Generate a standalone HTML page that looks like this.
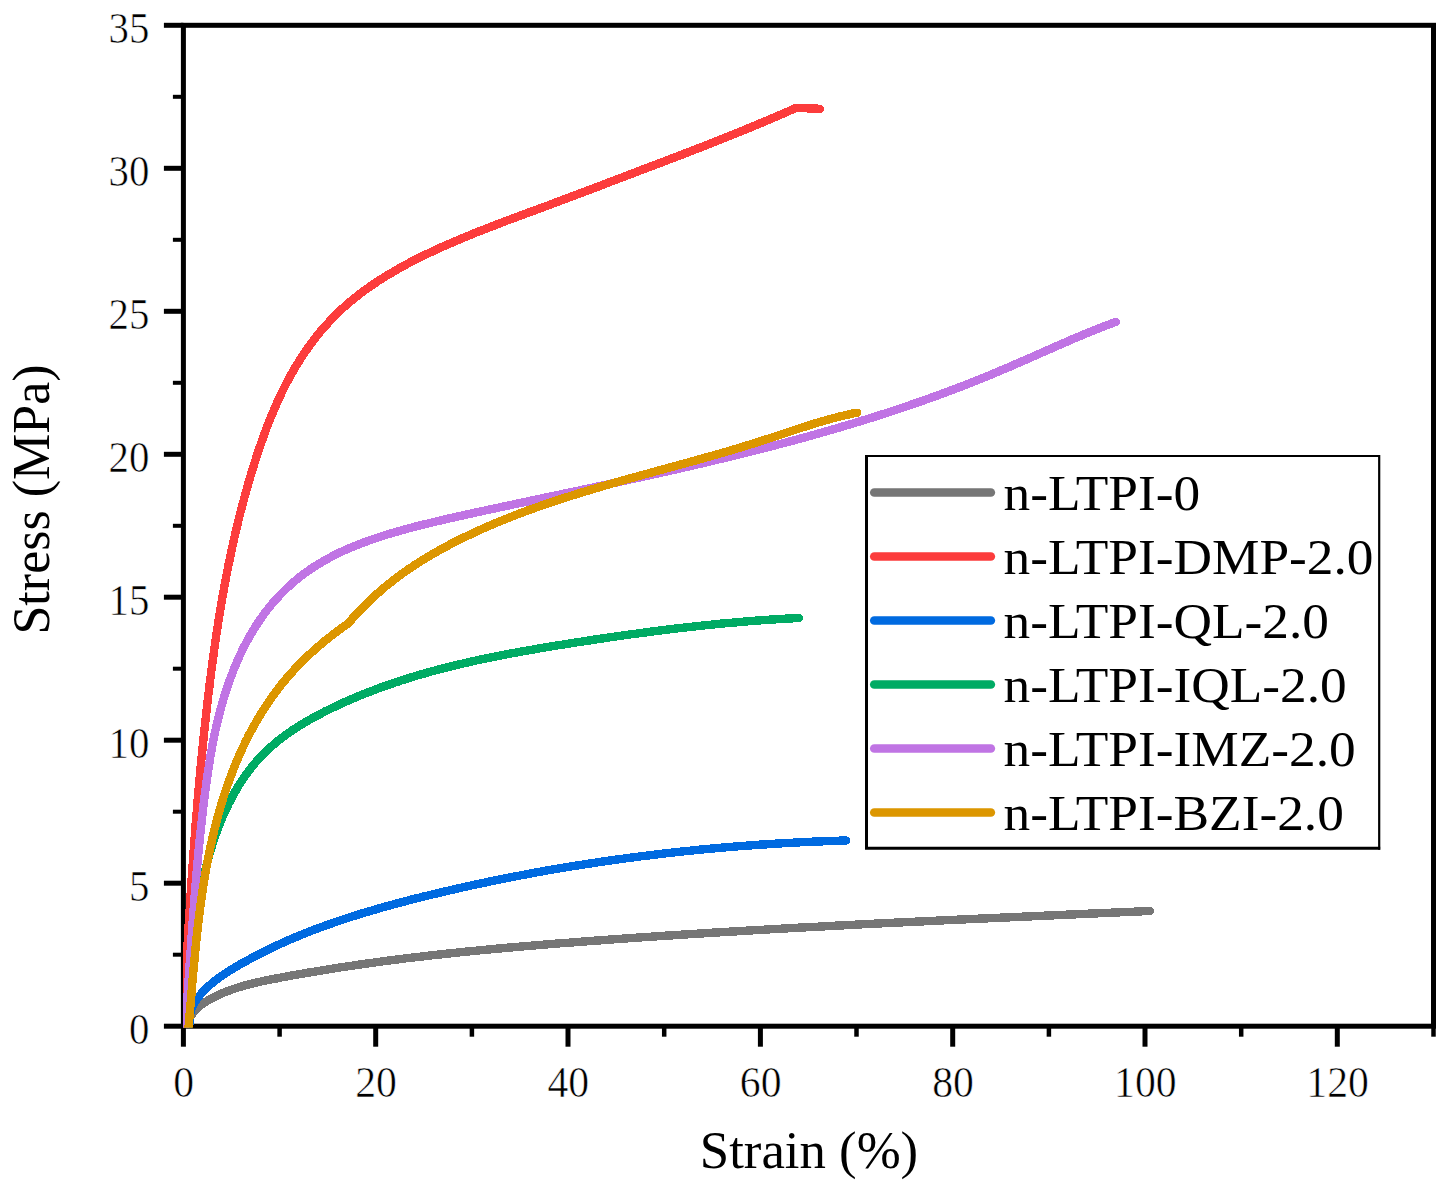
<!DOCTYPE html>
<html><head><meta charset="utf-8"><title>Stress-Strain</title>
<style>
html,body{margin:0;padding:0;background:#fff;}
body{width:1446px;height:1188px;overflow:hidden;}
svg{display:block;}
text{font-family:"Liberation Serif",serif;fill:#000;}
.tk{font-size:43px;stroke:#fff;stroke-width:0.55px;}
.lg{font-size:50px;}
.ti{font-size:52px;}
</style></head><body>
<svg width="1446" height="1188" viewBox="0 0 1446 1188">
<rect width="1446" height="1188" fill="#fff"/>
<defs><clipPath id="cp"><rect x="183" y="20" width="1260" height="1007.8"/></clipPath></defs>
<g stroke="#000" stroke-linecap="butt">
<rect x="183.4" y="25.3" width="1250.1" height="1000.9" fill="none" stroke="#000" stroke-width="5"/>
<line x1="183.4" y1="1026.2" x2="183.4" y2="1046.7" stroke-width="5"/>
<line x1="279.6" y1="1026.2" x2="279.6" y2="1036.7" stroke-width="4.5"/>
<line x1="375.7" y1="1026.2" x2="375.7" y2="1046.7" stroke-width="5"/>
<line x1="471.9" y1="1026.2" x2="471.9" y2="1036.7" stroke-width="4.5"/>
<line x1="568.0" y1="1026.2" x2="568.0" y2="1046.7" stroke-width="5"/>
<line x1="664.2" y1="1026.2" x2="664.2" y2="1036.7" stroke-width="4.5"/>
<line x1="760.4" y1="1026.2" x2="760.4" y2="1046.7" stroke-width="5"/>
<line x1="856.5" y1="1026.2" x2="856.5" y2="1036.7" stroke-width="4.5"/>
<line x1="952.7" y1="1026.2" x2="952.7" y2="1046.7" stroke-width="5"/>
<line x1="1048.9" y1="1026.2" x2="1048.9" y2="1036.7" stroke-width="4.5"/>
<line x1="1145.0" y1="1026.2" x2="1145.0" y2="1046.7" stroke-width="5"/>
<line x1="1241.2" y1="1026.2" x2="1241.2" y2="1036.7" stroke-width="4.5"/>
<line x1="1337.3" y1="1026.2" x2="1337.3" y2="1046.7" stroke-width="5"/>
<line x1="1433.5" y1="1026.2" x2="1433.5" y2="1036.7" stroke-width="4.5"/>
<line x1="183.4" y1="1026.2" x2="163.9" y2="1026.2" stroke-width="5"/>
<line x1="183.4" y1="954.7" x2="172.9" y2="954.7" stroke-width="4"/>
<line x1="183.4" y1="883.2" x2="163.9" y2="883.2" stroke-width="5"/>
<line x1="183.4" y1="811.7" x2="172.9" y2="811.7" stroke-width="4"/>
<line x1="183.4" y1="740.2" x2="163.9" y2="740.2" stroke-width="5"/>
<line x1="183.4" y1="668.7" x2="172.9" y2="668.7" stroke-width="4"/>
<line x1="183.4" y1="597.2" x2="163.9" y2="597.2" stroke-width="5"/>
<line x1="183.4" y1="525.8" x2="172.9" y2="525.8" stroke-width="4"/>
<line x1="183.4" y1="454.3" x2="163.9" y2="454.3" stroke-width="5"/>
<line x1="183.4" y1="382.8" x2="172.9" y2="382.8" stroke-width="4"/>
<line x1="183.4" y1="311.3" x2="163.9" y2="311.3" stroke-width="5"/>
<line x1="183.4" y1="239.8" x2="172.9" y2="239.8" stroke-width="4"/>
<line x1="183.4" y1="168.3" x2="163.9" y2="168.3" stroke-width="5"/>
<line x1="183.4" y1="96.8" x2="172.9" y2="96.8" stroke-width="4"/>
<line x1="183.4" y1="25.3" x2="163.9" y2="25.3" stroke-width="5"/>
</g>
<g fill="none" stroke-width="8.4" stroke-linecap="round" stroke-linejoin="round" clip-path="url(#cp)" shape-rendering="crispEdges">
<path d="M188.1,1024.8 L188.6,1022.2 L189.4,1019.8 L190.3,1017.5 L191.4,1015.4 L192.7,1013.4 L194.1,1011.6 L195.7,1009.8 L197.3,1008.1 L199.1,1006.6 L201.0,1005.1 L202.9,1003.7 L204.9,1002.3 L207.0,1001.1 L209.1,999.8 L211.2,998.7 L213.3,997.5 L215.5,996.4 L217.6,995.4 L219.8,994.4 L222.0,993.4 L224.3,992.4 L226.5,991.5 L228.8,990.7 L231.1,989.8 L233.4,989.0 L235.7,988.3 L238.0,987.5 L240.4,986.8 L242.7,986.1 L245.1,985.4 L247.5,984.8 L249.9,984.2 L252.3,983.6 L254.7,983.0 L257.1,982.4 L259.5,981.9 L261.9,981.3 L264.4,980.8 L266.8,980.3 L269.3,979.8 L271.7,979.3 L274.1,978.8 L276.6,978.4 L279.1,977.9 L281.5,977.4 L284.0,977.0 L286.4,976.5 L288.9,976.1 L291.3,975.6 L293.8,975.2 L296.2,974.8 L298.7,974.3 L301.1,973.9 L303.6,973.5 L306.0,973.0 L308.5,972.6 L310.9,972.2 L313.4,971.8 L315.8,971.4 L318.3,971.0 L320.7,970.6 L323.2,970.2 L325.6,969.8 L328.0,969.4 L330.5,969.0 L332.9,968.6 L335.4,968.2 L337.8,967.8 L340.3,967.4 L342.7,967.1 L345.2,966.7 L347.6,966.3 L350.1,966.0 L352.5,965.6 L355.0,965.2 L357.4,964.9 L359.9,964.5 L362.3,964.2 L364.7,963.8 L367.2,963.5 L369.6,963.1 L372.1,962.8 L374.5,962.5 L377.0,962.1 L379.4,961.8 L381.9,961.5 L384.3,961.1 L386.7,960.8 L389.2,960.5 L391.6,960.2 L394.1,959.9 L396.5,959.6 L399.0,959.2 L401.4,958.9 L403.9,958.6 L406.3,958.3 L408.7,958.0 L411.2,957.7 L413.6,957.4 L416.1,957.2 L418.5,956.9 L421.0,956.6 L423.4,956.3 L425.8,956.0 L428.3,955.7 L430.7,955.4 L433.2,955.2 L435.6,954.9 L438.1,954.6 L440.5,954.4 L442.9,954.1 L445.4,953.8 L447.8,953.6 L450.3,953.3 L452.7,953.0 L455.2,952.8 L457.6,952.5 L460.0,952.3 L462.5,952.0 L464.9,951.8 L467.4,951.5 L469.8,951.3 L472.3,951.0 L474.7,950.8 L477.2,950.6 L479.6,950.3 L482.0,950.1 L484.5,949.9 L486.9,949.6 L489.4,949.4 L491.8,949.2 L494.3,948.9 L496.7,948.7 L499.1,948.5 L501.6,948.3 L504.0,948.0 L506.5,947.8 L508.9,947.6 L511.4,947.4 L513.8,947.2 L516.3,947.0 L518.7,946.8 L521.1,946.5 L523.6,946.3 L526.0,946.1 L528.5,945.9 L530.9,945.7 L533.4,945.5 L535.8,945.3 L538.3,945.1 L540.7,944.9 L543.1,944.7 L545.6,944.5 L548.0,944.3 L550.5,944.1 L552.9,943.9 L555.4,943.7 L557.8,943.5 L560.3,943.3 L562.7,943.1 L565.2,942.9 L567.6,942.8 L570.1,942.6 L572.5,942.4 L575.0,942.2 L577.4,942.0 L579.8,941.8 L582.3,941.6 L584.7,941.4 L587.2,941.3 L589.6,941.1 L592.1,940.9 L594.5,940.7 L597.0,940.5 L599.4,940.4 L601.9,940.2 L604.3,940.0 L606.8,939.8 L609.2,939.6 L611.7,939.5 L614.1,939.3 L616.6,939.1 L619.0,938.9 L621.5,938.8 L623.9,938.6 L626.4,938.4 L628.8,938.2 L631.3,938.1 L633.8,937.9 L636.2,937.7 L638.7,937.6 L641.1,937.4 L643.6,937.2 L646.0,937.1 L648.5,936.9 L650.9,936.7 L653.4,936.6 L655.8,936.4 L658.3,936.2 L660.7,936.1 L663.2,935.9 L665.6,935.7 L668.1,935.6 L670.6,935.4 L673.0,935.3 L675.5,935.1 L677.9,934.9 L680.4,934.8 L682.8,934.6 L685.3,934.5 L687.7,934.3 L690.2,934.1 L692.7,934.0 L695.1,933.8 L697.6,933.7 L700.0,933.5 L702.5,933.4 L704.9,933.2 L707.4,933.1 L709.8,932.9 L712.3,932.7 L714.8,932.6 L717.2,932.4 L719.7,932.3 L722.1,932.1 L724.6,932.0 L727.1,931.8 L729.5,931.7 L732.0,931.5 L734.4,931.4 L736.9,931.3 L739.3,931.1 L741.8,931.0 L744.3,930.8 L746.7,930.7 L749.2,930.5 L751.6,930.4 L754.1,930.2 L756.5,930.1 L759.0,930.0 L761.5,929.8 L763.9,929.7 L766.4,929.5 L768.8,929.4 L771.3,929.2 L773.8,929.1 L776.2,929.0 L778.7,928.8 L781.1,928.7 L783.6,928.5 L786.1,928.4 L788.5,928.3 L791.0,928.1 L793.4,928.0 L795.9,927.9 L798.4,927.7 L800.8,927.6 L803.3,927.5 L805.7,927.3 L808.2,927.2 L810.7,927.1 L813.1,926.9 L815.6,926.8 L818.0,926.7 L820.5,926.5 L823.0,926.4 L825.4,926.3 L827.9,926.1 L830.3,926.0 L832.8,925.9 L835.3,925.7 L837.7,925.6 L840.2,925.5 L842.7,925.4 L845.1,925.2 L847.6,925.1 L850.0,925.0 L852.5,924.8 L855.0,924.7 L857.4,924.6 L859.9,924.5 L862.3,924.3 L864.8,924.2 L867.3,924.1 L869.7,924.0 L872.2,923.8 L874.6,923.7 L877.1,923.6 L879.6,923.5 L882.0,923.3 L884.5,923.2 L887.0,923.1 L889.4,923.0 L891.9,922.8 L894.3,922.7 L896.8,922.6 L899.3,922.5 L901.7,922.4 L904.2,922.2 L906.6,922.1 L909.1,922.0 L911.6,921.9 L914.0,921.8 L916.5,921.6 L918.9,921.5 L921.4,921.4 L923.9,921.3 L926.3,921.2 L928.8,921.0 L931.3,920.9 L933.7,920.8 L936.2,920.7 L938.6,920.6 L941.1,920.5 L943.6,920.3 L946.0,920.2 L948.5,920.1 L950.9,920.0 L953.4,919.9 L955.9,919.8 L958.3,919.6 L960.8,919.5 L963.2,919.4 L965.7,919.3 L968.2,919.2 L970.6,919.1 L973.1,919.0 L975.5,918.8 L978.0,918.7 L980.5,918.6 L982.9,918.5 L985.4,918.4 L987.8,918.3 L990.3,918.2 L992.8,918.0 L995.2,917.9 L997.7,917.8 L1000.1,917.7 L1002.6,917.6 L1005.1,917.5 L1007.5,917.4 L1010.0,917.3 L1012.4,917.1 L1014.9,917.0 L1017.4,916.9 L1019.8,916.8 L1022.3,916.7 L1024.7,916.6 L1027.2,916.5 L1029.7,916.4 L1032.1,916.3 L1034.6,916.1 L1037.0,916.0 L1039.5,915.9 L1041.9,915.8 L1044.4,915.7 L1046.9,915.6 L1049.3,915.5 L1051.8,915.4 L1054.2,915.3 L1056.7,915.1 L1059.1,915.0 L1061.6,914.9 L1064.1,914.8 L1066.5,914.7 L1069.0,914.6 L1071.4,914.5 L1073.9,914.4 L1076.3,914.3 L1078.8,914.2 L1081.3,914.0 L1083.7,913.9 L1086.2,913.8 L1088.6,913.7 L1091.1,913.6 L1093.5,913.5 L1096.0,913.4 L1098.4,913.3 L1100.9,913.2 L1103.4,913.1 L1105.8,913.0 L1108.3,912.8 L1110.7,912.7 L1113.2,912.6 L1115.6,912.5 L1118.1,912.4 L1120.5,912.3 L1123.0,912.2 L1125.4,912.1 L1127.9,912.0 L1130.4,911.9 L1132.8,911.8 L1135.3,911.6 L1137.7,911.5 L1140.2,911.4 L1142.6,911.3 L1145.1,911.2 L1147.5,911.1 L1150.0,911.0" stroke="#767676"/>
<path d="M183.2,1026.0 L183.4,1022.9 L183.5,1019.8 L183.7,1016.7 L183.8,1013.6 L184.0,1010.4 L184.1,1007.3 L184.3,1004.2 L184.5,1001.1 L184.6,998.0 L184.8,994.9 L184.9,991.8 L185.1,988.7 L185.3,985.6 L185.4,982.4 L185.6,979.3 L185.8,976.2 L185.9,973.1 L186.1,970.0 L186.3,966.9 L186.5,963.8 L186.6,960.6 L186.8,957.5 L187.0,954.4 L187.2,951.3 L187.3,948.2 L187.5,945.1 L187.7,942.0 L187.9,938.8 L188.1,935.7 L188.2,932.6 L188.4,929.5 L188.6,926.4 L188.8,923.2 L189.0,920.1 L189.2,917.0 L189.4,913.9 L189.6,910.8 L189.8,907.7 L190.0,904.5 L190.2,901.4 L190.4,898.3 L190.6,895.2 L190.8,892.1 L191.0,888.9 L191.2,885.8 L191.4,882.7 L191.6,879.6 L191.8,876.5 L192.0,873.4 L192.2,870.2 L192.5,867.1 L192.7,864.0 L192.9,860.9 L193.1,857.8 L193.4,854.6 L193.6,851.5 L193.8,848.4 L194.0,845.3 L194.3,842.2 L194.5,839.1 L194.8,835.9 L195.0,832.8 L195.2,829.7 L195.5,826.6 L195.7,823.5 L196.0,820.4 L196.2,817.2 L196.5,814.1 L196.8,811.0 L197.0,807.9 L197.3,804.8 L197.5,801.7 L197.8,798.5 L198.1,795.4 L198.4,792.3 L198.6,789.2 L198.9,786.1 L199.2,783.0 L199.5,779.9 L199.8,776.8 L200.1,773.7 L200.3,770.5 L200.6,767.4 L200.9,764.3 L201.2,761.2 L201.5,758.1 L201.8,755.0 L202.2,751.9 L202.5,748.8 L202.8,745.7 L203.1,742.6 L203.4,739.5 L203.7,736.4 L204.1,733.3 L204.4,730.2 L204.7,727.1 L205.1,724.0 L205.4,720.9 L205.7,717.8 L206.1,714.7 L206.4,711.6 L206.8,708.5 L207.2,705.4 L207.5,702.3 L207.9,699.2 L208.2,696.1 L208.6,693.0 L209.0,689.9 L209.4,686.8 L209.7,683.7 L210.1,680.6 L210.5,677.5 L210.9,674.4 L211.3,671.3 L211.7,668.3 L212.1,665.2 L212.5,662.1 L212.9,659.0 L213.4,655.9 L213.8,652.8 L214.2,649.8 L214.6,646.7 L215.1,643.6 L215.5,640.5 L216.0,637.4 L216.4,634.4 L216.9,631.3 L217.4,628.2 L217.8,625.1 L218.3,622.1 L218.8,619.0 L219.3,615.9 L219.8,612.9 L220.3,609.8 L220.8,606.7 L221.3,603.7 L221.9,600.6 L222.4,597.5 L222.9,594.5 L223.5,591.4 L224.0,588.3 L224.6,585.3 L225.2,582.2 L225.7,579.2 L226.3,576.1 L226.9,573.1 L227.5,570.0 L228.1,566.9 L228.7,563.9 L229.4,560.8 L230.0,557.8 L230.6,554.8 L231.3,551.7 L231.9,548.7 L232.6,545.6 L233.3,542.6 L233.9,539.5 L234.6,536.5 L235.3,533.5 L236.0,530.4 L236.8,527.4 L237.5,524.4 L238.2,521.3 L239.0,518.3 L239.7,515.3 L240.5,512.2 L241.3,509.2 L242.1,506.2 L242.9,503.2 L243.7,500.1 L244.5,497.1 L245.3,494.1 L246.2,491.1 L247.0,488.1 L247.9,485.0 L248.7,482.0 L249.6,479.0 L250.5,476.0 L251.4,473.0 L252.3,470.0 L253.3,467.0 L254.2,464.0 L255.2,461.0 L256.1,458.0 L257.1,455.0 L258.1,452.0 L259.1,449.0 L260.1,446.0 L261.2,443.0 L262.2,440.1 L263.3,437.1 L264.3,434.1 L265.4,431.2 L266.5,428.2 L267.7,425.3 L268.8,422.3 L270.0,419.4 L271.2,416.5 L272.4,413.6 L273.6,410.7 L274.8,407.8 L276.1,404.9 L277.4,402.1 L278.7,399.2 L280.0,396.4 L281.3,393.5 L282.7,390.7 L284.1,387.9 L285.5,385.1 L286.9,382.3 L288.4,379.6 L289.9,376.8 L291.4,374.1 L292.9,371.4 L294.5,368.7 L296.1,366.0 L297.7,363.4 L299.3,360.7 L301.0,358.1 L302.7,355.5 L304.4,352.9 L306.2,350.4 L308.0,347.8 L309.8,345.3 L311.6,342.8 L313.5,340.3 L315.4,337.9 L317.3,335.4 L319.3,333.0 L321.2,330.6 L323.3,328.3 L325.3,326.0 L327.4,323.7 L329.5,321.4 L331.6,319.1 L333.7,316.9 L335.9,314.7 L338.1,312.6 L340.4,310.4 L342.6,308.3 L344.9,306.3 L347.3,304.2 L349.6,302.2 L352.0,300.2 L354.4,298.3 L356.8,296.3 L359.2,294.4 L361.7,292.5 L364.2,290.7 L366.7,288.9 L369.2,287.1 L371.8,285.3 L374.4,283.6 L376.9,281.8 L379.6,280.1 L382.2,278.5 L384.8,276.8 L387.5,275.2 L390.2,273.6 L392.9,272.0 L395.6,270.4 L398.3,268.8 L401.0,267.3 L403.8,265.8 L406.5,264.3 L409.3,262.8 L412.1,261.4 L414.9,259.9 L417.7,258.5 L420.5,257.1 L423.3,255.7 L426.1,254.4 L429.0,253.0 L431.8,251.7 L434.6,250.3 L437.5,249.0 L440.3,247.7 L443.2,246.4 L446.1,245.2 L448.9,243.9 L451.8,242.7 L454.7,241.4 L457.6,240.2 L460.4,239.0 L463.3,237.8 L466.2,236.6 L469.1,235.4 L472.0,234.2 L474.9,233.0 L477.8,231.9 L480.7,230.7 L483.6,229.6 L486.5,228.4 L489.4,227.3 L492.4,226.2 L495.3,225.1 L498.2,223.9 L501.1,222.8 L504.0,221.7 L506.9,220.6 L509.9,219.5 L512.8,218.4 L515.7,217.4 L518.6,216.3 L521.6,215.2 L524.5,214.1 L527.4,213.0 L530.3,211.9 L533.3,210.9 L536.2,209.8 L539.1,208.7 L542.0,207.6 L545.0,206.5 L547.9,205.5 L550.8,204.4 L553.7,203.3 L556.6,202.2 L559.6,201.1 L562.5,200.0 L565.4,198.9 L568.3,197.8 L571.2,196.7 L574.1,195.6 L577.1,194.5 L580.0,193.4 L582.9,192.3 L585.8,191.2 L588.7,190.1 L591.6,189.0 L594.5,187.9 L597.5,186.8 L600.4,185.7 L603.3,184.6 L606.2,183.5 L609.1,182.3 L612.0,181.2 L614.9,180.1 L617.8,179.0 L620.8,177.9 L623.7,176.8 L626.6,175.7 L629.5,174.6 L632.4,173.5 L635.3,172.4 L638.2,171.3 L641.2,170.1 L644.1,169.0 L647.0,167.9 L649.9,166.8 L652.8,165.7 L655.7,164.6 L658.7,163.5 L661.6,162.4 L664.5,161.3 L667.4,160.1 L670.3,159.0 L673.2,157.9 L676.2,156.8 L679.1,155.7 L682.0,154.6 L684.9,153.4 L687.8,152.3 L690.7,151.2 L693.6,150.1 L696.6,148.9 L699.5,147.8 L702.4,146.7 L705.3,145.5 L708.2,144.4 L711.1,143.2 L714.0,142.1 L716.9,140.9 L719.8,139.8 L722.7,138.6 L725.6,137.5 L728.5,136.3 L731.4,135.2 L734.3,134.0 L737.2,132.8 L740.1,131.6 L743.0,130.5 L745.9,129.3 L748.8,128.1 L751.7,126.9 L754.5,125.7 L757.4,124.5 L760.3,123.3 L763.2,122.1 L766.1,120.9 L768.9,119.7 L771.8,118.5 L774.7,117.2 L777.6,116.0 L780.4,114.8 L783.3,113.5 L786.1,112.3 L789.0,111.0 L791.9,109.8 L794.7,108.5 L798.0,107.9 L804.0,108.2 L820.0,108.8" stroke="#fc3c3c"/>
<path d="M189.4,1024.0 L189.3,1022.0 L189.3,1020.1 L189.4,1018.3 L189.6,1016.5 L189.9,1014.7 L190.3,1013.0 L190.8,1011.3 L191.3,1009.6 L192.0,1008.0 L192.6,1006.5 L193.4,1004.9 L194.2,1003.4 L195.1,1002.0 L196.0,1000.5 L196.9,999.1 L198.0,997.7 L199.0,996.4 L200.1,995.0 L201.2,993.7 L202.3,992.4 L203.5,991.2 L204.7,989.9 L205.9,988.7 L207.1,987.5 L208.4,986.3 L209.7,985.2 L211.0,984.0 L212.3,982.9 L213.7,981.8 L215.1,980.7 L216.5,979.6 L217.9,978.5 L219.3,977.5 L220.8,976.5 L222.3,975.4 L223.7,974.4 L225.2,973.5 L226.7,972.5 L228.3,971.5 L229.8,970.6 L231.3,969.6 L232.9,968.7 L234.4,967.7 L236.0,966.8 L237.5,965.9 L239.1,965.0 L240.6,964.1 L242.2,963.2 L243.8,962.4 L245.3,961.5 L246.9,960.6 L248.5,959.8 L250.1,958.9 L251.7,958.1 L253.2,957.2 L254.8,956.4 L256.4,955.5 L258.0,954.7 L259.6,953.9 L261.2,953.1 L262.8,952.3 L264.4,951.5 L266.0,950.7 L267.6,949.9 L269.2,949.1 L270.8,948.4 L272.4,947.6 L274.0,946.8 L275.6,946.1 L277.2,945.3 L278.8,944.6 L280.4,943.8 L282.0,943.1 L283.7,942.4 L285.3,941.7 L286.9,940.9 L288.5,940.2 L290.1,939.5 L291.8,938.8 L293.4,938.1 L295.0,937.4 L296.7,936.8 L298.3,936.1 L299.9,935.4 L301.6,934.7 L303.2,934.1 L304.8,933.4 L306.5,932.7 L308.1,932.1 L309.8,931.5 L311.4,930.8 L313.0,930.2 L314.7,929.5 L316.3,928.9 L318.0,928.3 L319.6,927.7 L321.3,927.1 L323.0,926.5 L324.6,925.9 L326.3,925.3 L327.9,924.7 L329.6,924.1 L331.3,923.5 L332.9,922.9 L334.6,922.3 L336.2,921.7 L337.9,921.2 L339.6,920.6 L341.2,920.0 L342.9,919.5 L344.6,918.9 L346.3,918.4 L347.9,917.8 L349.6,917.3 L351.3,916.8 L353.0,916.2 L354.6,915.7 L356.3,915.2 L358.0,914.6 L359.7,914.1 L361.4,913.6 L363.1,913.1 L364.7,912.6 L366.4,912.1 L368.1,911.6 L369.8,911.1 L371.5,910.6 L373.2,910.1 L374.9,909.6 L376.6,909.1 L378.3,908.6 L380.0,908.1 L381.7,907.6 L383.3,907.1 L385.0,906.7 L386.7,906.2 L388.4,905.7 L390.1,905.3 L391.8,904.8 L393.5,904.3 L395.2,903.9 L396.9,903.4 L398.6,903.0 L400.4,902.5 L402.1,902.1 L403.8,901.6 L405.5,901.2 L407.2,900.7 L408.9,900.3 L410.6,899.8 L412.3,899.4 L414.0,899.0 L415.7,898.5 L417.4,898.1 L419.1,897.7 L420.9,897.3 L422.6,896.8 L424.3,896.4 L426.0,896.0 L427.7,895.6 L429.4,895.1 L431.1,894.7 L432.8,894.3 L434.6,893.9 L436.3,893.5 L438.0,893.1 L439.7,892.7 L441.4,892.3 L443.1,891.9 L444.9,891.5 L446.6,891.1 L448.3,890.7 L450.0,890.3 L451.7,889.9 L453.5,889.5 L455.2,889.1 L456.9,888.7 L458.6,888.3 L460.4,887.9 L462.1,887.5 L463.8,887.1 L465.5,886.7 L467.3,886.4 L469.0,886.0 L470.7,885.6 L472.4,885.2 L474.2,884.8 L475.9,884.5 L477.6,884.1 L479.3,883.7 L481.1,883.4 L482.8,883.0 L484.5,882.6 L486.3,882.3 L488.0,881.9 L489.7,881.5 L491.4,881.2 L493.2,880.8 L494.9,880.5 L496.6,880.1 L498.4,879.8 L500.1,879.4 L501.8,879.1 L503.6,878.7 L505.3,878.4 L507.0,878.0 L508.8,877.7 L510.5,877.3 L512.2,877.0 L514.0,876.7 L515.7,876.3 L517.5,876.0 L519.2,875.7 L520.9,875.3 L522.7,875.0 L524.4,874.7 L526.1,874.3 L527.9,874.0 L529.6,873.7 L531.4,873.4 L533.1,873.0 L534.8,872.7 L536.6,872.4 L538.3,872.1 L540.1,871.8 L541.8,871.5 L543.6,871.2 L545.3,870.8 L547.0,870.5 L548.8,870.2 L550.5,869.9 L552.3,869.6 L554.0,869.3 L555.8,869.0 L557.5,868.7 L559.2,868.4 L561.0,868.1 L562.7,867.8 L564.5,867.5 L566.2,867.3 L568.0,867.0 L569.7,866.7 L571.5,866.4 L573.2,866.1 L575.0,865.8 L576.7,865.5 L578.5,865.3 L580.2,865.0 L582.0,864.7 L583.7,864.4 L585.5,864.2 L587.2,863.9 L589.0,863.6 L590.7,863.4 L592.5,863.1 L594.2,862.8 L596.0,862.6 L597.7,862.3 L599.5,862.0 L601.2,861.8 L603.0,861.5 L604.7,861.3 L606.5,861.0 L608.2,860.8 L610.0,860.5 L611.7,860.3 L613.5,860.0 L615.2,859.8 L617.0,859.5 L618.7,859.3 L620.5,859.0 L622.3,858.8 L624.0,858.6 L625.8,858.3 L627.5,858.1 L629.3,857.8 L631.0,857.6 L632.8,857.4 L634.5,857.2 L636.3,856.9 L638.1,856.7 L639.8,856.5 L641.6,856.2 L643.3,856.0 L645.1,855.8 L646.8,855.6 L648.6,855.4 L650.4,855.2 L652.1,854.9 L653.9,854.7 L655.6,854.5 L657.4,854.3 L659.1,854.1 L660.9,853.9 L662.7,853.7 L664.4,853.5 L666.2,853.3 L667.9,853.1 L669.7,852.9 L671.5,852.7 L673.2,852.5 L675.0,852.3 L676.7,852.1 L678.5,851.9 L680.3,851.7 L682.0,851.5 L683.8,851.3 L685.5,851.2 L687.3,851.0 L689.1,850.8 L690.8,850.6 L692.6,850.4 L694.3,850.3 L696.1,850.1 L697.9,849.9 L699.6,849.7 L701.4,849.6 L703.2,849.4 L704.9,849.2 L706.7,849.1 L708.4,848.9 L710.2,848.7 L712.0,848.6 L713.7,848.4 L715.5,848.2 L717.3,848.1 L719.0,847.9 L720.8,847.8 L722.5,847.6 L724.3,847.5 L726.1,847.3 L727.8,847.2 L729.6,847.0 L731.4,846.9 L733.1,846.7 L734.9,846.6 L736.7,846.4 L738.4,846.3 L740.2,846.2 L741.9,846.0 L743.7,845.9 L745.5,845.8 L747.2,845.6 L749.0,845.5 L750.8,845.4 L752.5,845.2 L754.3,845.1 L756.1,845.0 L757.8,844.9 L759.6,844.7 L761.3,844.6 L763.1,844.5 L764.9,844.4 L766.6,844.3 L768.4,844.1 L770.2,844.0 L771.9,843.9 L773.7,843.8 L775.5,843.7 L777.2,843.6 L779.0,843.5 L780.7,843.4 L782.5,843.3 L784.3,843.2 L786.0,843.1 L787.8,843.0 L789.6,842.9 L791.3,842.8 L793.1,842.7 L794.9,842.6 L796.6,842.5 L798.4,842.4 L800.1,842.3 L801.9,842.2 L803.7,842.1 L805.4,842.0 L807.2,842.0 L809.0,841.9 L810.7,841.8 L812.5,841.7 L814.3,841.6 L816.0,841.6 L817.8,841.5 L819.5,841.4 L821.3,841.3 L823.1,841.3 L824.8,841.2 L826.6,841.1 L828.4,841.1 L830.1,841.0 L831.9,840.9 L833.6,840.9 L835.4,840.8 L837.2,840.8 L838.9,840.7 L840.7,840.6 L842.5,840.6 L844.2,840.5 L846.0,840.5" stroke="#006ae0"/>
<path d="M188.0,1026.0 L188.1,1023.9 L188.1,1021.7 L188.1,1019.6 L188.2,1017.4 L188.2,1015.3 L188.3,1013.1 L188.4,1011.0 L188.4,1008.8 L188.5,1006.7 L188.5,1004.5 L188.6,1002.4 L188.7,1000.3 L188.8,998.1 L188.9,996.0 L188.9,993.9 L189.0,991.7 L189.1,989.6 L189.2,987.5 L189.3,985.4 L189.5,983.2 L189.6,981.1 L189.7,979.0 L189.8,976.9 L189.9,974.7 L190.1,972.6 L190.2,970.5 L190.4,968.4 L190.5,966.3 L190.7,964.1 L190.9,962.0 L191.0,959.9 L191.2,957.8 L191.4,955.7 L191.6,953.6 L191.8,951.5 L192.0,949.4 L192.2,947.3 L192.4,945.2 L192.6,943.1 L192.8,941.0 L193.1,938.9 L193.3,936.8 L193.6,934.7 L193.8,932.6 L194.1,930.5 L194.4,928.4 L194.6,926.3 L194.9,924.2 L195.2,922.1 L195.5,920.0 L195.8,917.9 L196.1,915.8 L196.5,913.7 L196.8,911.6 L197.1,909.5 L197.5,907.4 L197.8,905.3 L198.2,903.3 L198.6,901.2 L199.0,899.1 L199.3,897.0 L199.7,894.9 L200.1,892.8 L200.6,890.7 L201.0,888.6 L201.4,886.6 L201.9,884.5 L202.3,882.4 L202.8,880.3 L203.3,878.2 L203.7,876.1 L204.2,874.1 L204.7,872.0 L205.2,869.9 L205.8,867.8 L206.3,865.7 L206.8,863.7 L207.4,861.6 L208.0,859.5 L208.5,857.5 L209.1,855.4 L209.7,853.3 L210.3,851.3 L210.9,849.2 L211.6,847.1 L212.2,845.1 L212.9,843.0 L213.5,841.0 L214.2,839.0 L214.9,836.9 L215.6,834.9 L216.4,832.9 L217.1,830.8 L217.8,828.8 L218.6,826.8 L219.4,824.8 L220.2,822.8 L221.0,820.8 L221.8,818.9 L222.6,816.9 L223.5,814.9 L224.4,813.0 L225.2,811.0 L226.1,809.1 L227.1,807.1 L228.0,805.2 L228.9,803.3 L229.9,801.4 L230.9,799.5 L231.9,797.6 L232.9,795.7 L233.9,793.9 L234.9,792.0 L236.0,790.2 L237.1,788.4 L238.2,786.5 L239.3,784.7 L240.4,782.9 L241.6,781.2 L242.8,779.4 L243.9,777.6 L245.2,775.9 L246.4,774.2 L247.6,772.5 L248.9,770.8 L250.2,769.1 L251.5,767.4 L252.8,765.8 L254.1,764.2 L255.5,762.5 L256.9,760.9 L258.3,759.4 L259.7,757.8 L261.1,756.3 L262.6,754.8 L264.1,753.3 L265.6,751.8 L267.1,750.3 L268.6,748.9 L270.2,747.5 L271.8,746.1 L273.4,744.7 L275.0,743.3 L276.6,742.0 L278.3,740.6 L279.9,739.3 L281.6,738.0 L283.3,736.8 L285.0,735.5 L286.7,734.3 L288.5,733.0 L290.2,731.8 L292.0,730.6 L293.7,729.4 L295.5,728.3 L297.3,727.1 L299.1,726.0 L301.0,724.8 L302.8,723.7 L304.6,722.6 L306.5,721.5 L308.3,720.5 L310.2,719.4 L312.1,718.3 L313.9,717.3 L315.8,716.3 L317.7,715.3 L319.6,714.3 L321.5,713.3 L323.4,712.3 L325.3,711.3 L327.3,710.4 L329.2,709.4 L331.1,708.5 L333.0,707.5 L335.0,706.6 L336.9,705.7 L338.9,704.8 L340.8,703.9 L342.7,703.0 L344.7,702.1 L346.7,701.3 L348.6,700.4 L350.6,699.5 L352.5,698.7 L354.5,697.9 L356.5,697.0 L358.4,696.2 L360.4,695.4 L362.4,694.6 L364.3,693.8 L366.3,693.0 L368.3,692.2 L370.3,691.5 L372.3,690.7 L374.3,690.0 L376.3,689.2 L378.2,688.5 L380.2,687.7 L382.2,687.0 L384.2,686.3 L386.2,685.6 L388.2,684.9 L390.3,684.2 L392.3,683.5 L394.3,682.8 L396.3,682.1 L398.3,681.5 L400.3,680.8 L402.3,680.1 L404.4,679.5 L406.4,678.9 L408.4,678.2 L410.4,677.6 L412.5,677.0 L414.5,676.4 L416.5,675.7 L418.6,675.1 L420.6,674.5 L422.6,674.0 L424.7,673.4 L426.7,672.8 L428.8,672.2 L430.8,671.6 L432.9,671.1 L434.9,670.5 L437.0,670.0 L439.0,669.4 L441.1,668.9 L443.1,668.4 L445.2,667.8 L447.2,667.3 L449.3,666.8 L451.4,666.3 L453.4,665.8 L455.5,665.3 L457.6,664.8 L459.6,664.3 L461.7,663.8 L463.8,663.3 L465.8,662.8 L467.9,662.4 L470.0,661.9 L472.1,661.4 L474.1,661.0 L476.2,660.5 L478.3,660.0 L480.4,659.6 L482.5,659.2 L484.5,658.7 L486.6,658.3 L488.7,657.8 L490.8,657.4 L492.9,657.0 L495.0,656.6 L497.1,656.2 L499.2,655.7 L501.2,655.3 L503.3,654.9 L505.4,654.5 L507.5,654.1 L509.6,653.7 L511.7,653.3 L513.8,652.9 L515.9,652.6 L518.0,652.2 L520.1,651.8 L522.2,651.4 L524.3,651.0 L526.4,650.7 L528.5,650.3 L530.6,649.9 L532.7,649.6 L534.8,649.2 L536.9,648.8 L539.0,648.5 L541.1,648.1 L543.2,647.8 L545.3,647.4 L547.4,647.1 L549.5,646.7 L551.6,646.4 L553.7,646.0 L555.8,645.7 L558.0,645.3 L560.1,645.0 L562.2,644.7 L564.3,644.3 L566.4,644.0 L568.5,643.6 L570.6,643.3 L572.7,643.0 L574.8,642.6 L576.9,642.3 L579.0,642.0 L581.1,641.7 L583.2,641.3 L585.4,641.0 L587.5,640.7 L589.6,640.4 L591.7,640.1 L593.8,639.7 L595.9,639.4 L598.0,639.1 L600.1,638.8 L602.2,638.5 L604.3,638.2 L606.4,637.8 L608.6,637.5 L610.7,637.2 L612.8,636.9 L614.9,636.6 L617.0,636.3 L619.1,636.0 L621.2,635.7 L623.3,635.4 L625.4,635.1 L627.5,634.8 L629.7,634.5 L631.8,634.2 L633.9,634.0 L636.0,633.7 L638.1,633.4 L640.2,633.1 L642.3,632.8 L644.4,632.5 L646.5,632.3 L648.7,632.0 L650.8,631.7 L652.9,631.4 L655.0,631.2 L657.1,630.9 L659.2,630.6 L661.3,630.4 L663.5,630.1 L665.6,629.8 L667.7,629.6 L669.8,629.3 L671.9,629.1 L674.0,628.8 L676.1,628.5 L678.3,628.3 L680.4,628.0 L682.5,627.8 L684.6,627.6 L686.7,627.3 L688.8,627.1 L690.9,626.8 L693.1,626.6 L695.2,626.4 L697.3,626.1 L699.4,625.9 L701.5,625.7 L703.7,625.5 L705.8,625.2 L707.9,625.0 L710.0,624.8 L712.1,624.6 L714.2,624.4 L716.4,624.2 L718.5,624.0 L720.6,623.7 L722.7,623.5 L724.8,623.3 L727.0,623.1 L729.1,623.0 L731.2,622.8 L733.3,622.6 L735.4,622.4 L737.6,622.2 L739.7,622.0 L741.8,621.8 L743.9,621.6 L746.1,621.5 L748.2,621.3 L750.3,621.1 L752.4,621.0 L754.5,620.8 L756.7,620.6 L758.8,620.5 L760.9,620.3 L763.0,620.2 L765.2,620.0 L767.3,619.9 L769.4,619.7 L771.5,619.6 L773.7,619.4 L775.8,619.3 L777.9,619.2 L780.0,619.0 L782.2,618.9 L784.3,618.8 L786.4,618.6 L788.6,618.5 L790.7,618.4 L792.8,618.3 L794.9,618.2 L797.1,618.1 L799.2,618.0" stroke="#00ab64"/>
<path d="M185.3,1027.0 L185.5,1023.7 L185.8,1020.3 L186.0,1016.9 L186.3,1013.6 L186.5,1010.2 L186.7,1006.8 L187.0,1003.5 L187.2,1000.1 L187.4,996.8 L187.7,993.4 L187.9,990.1 L188.1,986.7 L188.4,983.4 L188.6,980.0 L188.8,976.7 L189.1,973.3 L189.3,970.0 L189.5,966.7 L189.7,963.3 L190.0,960.0 L190.2,956.7 L190.4,953.3 L190.7,950.0 L190.9,946.7 L191.1,943.4 L191.4,940.0 L191.6,936.7 L191.8,933.4 L192.1,930.0 L192.3,926.7 L192.6,923.4 L192.8,920.1 L193.0,916.8 L193.3,913.4 L193.5,910.1 L193.8,906.8 L194.1,903.5 L194.3,900.2 L194.6,896.8 L194.8,893.5 L195.1,890.2 L195.4,886.9 L195.7,883.6 L195.9,880.3 L196.2,876.9 L196.5,873.6 L196.8,870.3 L197.1,867.0 L197.4,863.7 L197.7,860.3 L198.0,857.0 L198.3,853.7 L198.6,850.4 L199.0,847.1 L199.3,843.7 L199.6,840.4 L200.0,837.1 L200.3,833.8 L200.7,830.5 L201.0,827.1 L201.4,823.8 L201.8,820.5 L202.1,817.1 L202.5,813.8 L202.9,810.5 L203.3,807.2 L203.7,803.8 L204.1,800.5 L204.5,797.2 L204.9,793.8 L205.4,790.5 L205.8,787.1 L206.3,783.8 L206.7,780.5 L207.2,777.1 L207.7,773.8 L208.2,770.5 L208.7,767.1 L209.2,763.8 L209.8,760.5 L210.3,757.1 L210.9,753.8 L211.5,750.5 L212.1,747.2 L212.7,743.9 L213.4,740.5 L214.0,737.2 L214.7,733.9 L215.4,730.6 L216.2,727.3 L216.9,724.1 L217.7,720.8 L218.5,717.5 L219.3,714.2 L220.2,711.0 L221.0,707.7 L221.9,704.5 L222.9,701.3 L223.8,698.0 L224.8,694.8 L225.8,691.6 L226.9,688.4 L227.9,685.2 L229.0,682.0 L230.2,678.9 L231.4,675.7 L232.6,672.6 L233.8,669.4 L235.1,666.3 L236.4,663.2 L237.7,660.1 L239.1,657.0 L240.5,654.0 L242.0,650.9 L243.5,647.9 L245.0,644.9 L246.6,641.9 L248.2,639.0 L249.8,636.1 L251.5,633.2 L253.2,630.3 L255.0,627.4 L256.8,624.6 L258.6,621.8 L260.5,619.1 L262.4,616.3 L264.3,613.7 L266.3,611.0 L268.4,608.4 L270.4,605.8 L272.6,603.3 L274.7,600.8 L276.9,598.3 L279.2,595.9 L281.5,593.5 L283.8,591.2 L286.1,588.9 L288.5,586.6 L291.0,584.4 L293.5,582.2 L296.0,580.1 L298.5,578.0 L301.1,576.0 L303.7,574.0 L306.4,572.1 L309.1,570.2 L311.8,568.3 L314.6,566.5 L317.4,564.8 L320.2,563.0 L323.0,561.4 L325.9,559.7 L328.8,558.1 L331.7,556.6 L334.7,555.1 L337.7,553.6 L340.7,552.1 L343.7,550.7 L346.7,549.4 L349.8,548.0 L352.9,546.7 L356.0,545.5 L359.1,544.2 L362.3,543.0 L365.4,541.8 L368.6,540.7 L371.8,539.6 L375.0,538.5 L378.2,537.4 L381.4,536.3 L384.6,535.3 L387.9,534.3 L391.1,533.3 L394.4,532.4 L397.6,531.4 L400.9,530.5 L404.2,529.6 L407.4,528.7 L410.7,527.8 L414.0,527.0 L417.2,526.1 L420.5,525.3 L423.8,524.5 L427.1,523.7 L430.3,522.9 L433.6,522.1 L436.9,521.3 L440.2,520.5 L443.4,519.8 L446.7,519.0 L450.0,518.2 L453.3,517.5 L456.5,516.8 L459.8,516.0 L463.1,515.3 L466.4,514.6 L469.6,513.9 L472.9,513.2 L476.2,512.4 L479.5,511.7 L482.7,511.0 L486.0,510.3 L489.3,509.6 L492.6,508.9 L495.8,508.2 L499.1,507.5 L502.4,506.8 L505.7,506.1 L508.9,505.4 L512.2,504.7 L515.5,504.0 L518.8,503.3 L522.0,502.6 L525.3,501.9 L528.6,501.2 L531.9,500.5 L535.1,499.8 L538.4,499.1 L541.7,498.4 L545.0,497.7 L548.2,497.0 L551.5,496.3 L554.8,495.6 L558.1,494.9 L561.3,494.2 L564.6,493.5 L567.9,492.9 L571.2,492.2 L574.4,491.5 L577.7,490.8 L581.0,490.1 L584.2,489.4 L587.5,488.7 L590.8,488.0 L594.1,487.3 L597.3,486.6 L600.6,485.9 L603.9,485.2 L607.1,484.5 L610.4,483.8 L613.7,483.1 L617.0,482.4 L620.2,481.7 L623.5,480.9 L626.8,480.2 L630.0,479.5 L633.3,478.8 L636.6,478.1 L639.8,477.4 L643.1,476.7 L646.4,475.9 L649.6,475.2 L652.9,474.5 L656.2,473.8 L659.4,473.0 L662.7,472.3 L666.0,471.6 L669.2,470.9 L672.5,470.1 L675.7,469.4 L679.0,468.6 L682.3,467.9 L685.5,467.1 L688.8,466.4 L692.0,465.6 L695.3,464.9 L698.5,464.1 L701.8,463.4 L705.1,462.6 L708.3,461.8 L711.6,461.1 L714.8,460.3 L718.1,459.5 L721.3,458.8 L724.6,458.0 L727.8,457.2 L731.1,456.4 L734.3,455.6 L737.6,454.8 L740.8,454.0 L744.0,453.2 L747.3,452.4 L750.5,451.6 L753.8,450.8 L757.0,450.0 L760.3,449.1 L763.5,448.3 L766.7,447.5 L770.0,446.6 L773.2,445.8 L776.4,445.0 L779.7,444.1 L782.9,443.3 L786.2,442.4 L789.4,441.5 L792.6,440.7 L795.8,439.8 L799.1,438.9 L802.3,438.0 L805.5,437.2 L808.7,436.3 L812.0,435.4 L815.2,434.5 L818.4,433.6 L821.6,432.6 L824.9,431.7 L828.1,430.8 L831.3,429.9 L834.5,428.9 L837.7,428.0 L840.9,427.1 L844.1,426.1 L847.4,425.1 L850.6,424.2 L853.8,423.2 L857.0,422.2 L860.2,421.3 L863.4,420.3 L866.6,419.3 L869.8,418.3 L873.0,417.3 L876.2,416.3 L879.4,415.2 L882.6,414.2 L885.8,413.2 L889.0,412.1 L892.1,411.1 L895.3,410.0 L898.5,409.0 L901.7,407.9 L904.9,406.9 L908.1,405.8 L911.2,404.7 L914.4,403.6 L917.6,402.5 L920.7,401.4 L923.9,400.3 L927.1,399.2 L930.2,398.0 L933.4,396.9 L936.5,395.8 L939.7,394.6 L942.8,393.5 L946.0,392.3 L949.1,391.1 L952.3,389.9 L955.4,388.8 L958.5,387.6 L961.7,386.4 L964.8,385.2 L967.9,383.9 L971.0,382.7 L974.2,381.5 L977.3,380.2 L980.4,379.0 L983.5,377.7 L986.6,376.5 L989.7,375.2 L992.8,373.9 L995.9,372.6 L999.0,371.3 L1002.0,370.0 L1005.1,368.7 L1008.2,367.4 L1011.3,366.1 L1014.3,364.7 L1017.4,363.4 L1020.5,362.1 L1023.5,360.7 L1026.6,359.4 L1029.7,358.0 L1032.7,356.7 L1035.8,355.3 L1038.8,354.0 L1041.9,352.6 L1044.9,351.3 L1048.0,349.9 L1051.1,348.6 L1054.1,347.2 L1057.2,345.9 L1060.2,344.5 L1063.3,343.2 L1066.4,341.9 L1069.4,340.5 L1072.5,339.2 L1075.6,337.9 L1078.7,336.6 L1081.7,335.3 L1084.8,334.0 L1087.9,332.7 L1091.0,331.5 L1094.1,330.2 L1097.2,329.0 L1100.3,327.8 L1103.4,326.5 L1106.5,325.3 L1109.7,324.2 L1112.8,323.0 L1115.9,321.8" stroke="#c074e4"/>
<path d="M188.5,1027.9 L188.6,1026.8 L188.7,1025.7 L188.8,1024.6 L188.9,1023.5 L189.0,1022.4 L189.1,1021.3 L189.2,1020.1 L189.3,1019.0 L189.4,1017.9 L189.5,1016.8 L189.5,1015.7 L189.6,1014.6 L189.7,1013.4 L189.8,1012.3 L189.9,1011.2 L190.0,1010.1 L190.1,1009.0 L190.2,1007.9 L190.3,1006.7 L190.4,1005.6 L190.5,1004.5 L190.6,1003.4 L190.7,1002.2 L190.8,1001.1 L190.9,1000.0 L191.0,998.9 L191.1,997.7 L191.2,996.6 L191.3,995.5 L191.4,994.4 L191.5,993.3 L191.5,992.1 L191.6,991.0 L191.7,989.9 L191.8,988.7 L191.9,987.6 L192.0,986.5 L192.1,985.4 L192.2,984.2 L192.3,983.1 L192.4,982.0 L192.5,980.9 L192.6,979.7 L192.7,978.6 L192.8,977.5 L192.9,976.3 L193.0,975.2 L193.1,974.1 L193.2,973.0 L193.3,971.8 L193.4,970.7 L193.5,969.6 L193.6,968.4 L193.7,967.3 L193.8,966.2 L193.9,965.0 L194.0,963.9 L194.1,962.8 L194.3,961.6 L194.4,960.5 L194.5,959.4 L194.6,958.2 L194.7,957.1 L194.8,956.0 L194.9,954.8 L195.0,953.7 L195.1,952.6 L195.2,951.5 L195.3,950.3 L195.5,949.2 L195.6,948.1 L195.7,946.9 L195.8,945.8 L195.9,944.7 L196.0,943.5 L196.1,942.4 L196.3,941.3 L196.4,940.1 L196.5,939.0 L196.6,937.9 L196.7,936.7 L196.9,935.6 L197.0,934.5 L197.1,933.3 L197.2,932.2 L197.4,931.1 L197.5,929.9 L197.6,928.8 L197.7,927.7 L197.9,926.5 L198.0,925.4 L198.1,924.3 L198.3,923.1 L198.4,922.0 L198.5,920.9 L198.7,919.7 L198.8,918.6 L199.0,917.5 L199.1,916.3 L199.2,915.2 L199.4,914.1 L199.5,912.9 L199.7,911.8 L199.8,910.7 L200.0,909.5 L200.1,908.4 L200.2,907.3 L200.4,906.2 L200.5,905.0 L200.7,903.9 L200.9,902.8 L201.0,901.6 L201.2,900.5 L201.3,899.4 L201.5,898.3 L201.6,897.1 L201.8,896.0 L202.0,894.9 L202.1,893.7 L202.3,892.6 L202.5,891.5 L202.6,890.4 L202.8,889.2 L203.0,888.1 L203.1,887.0 L203.3,885.9 L203.5,884.7 L203.7,883.6 L203.9,882.5 L204.0,881.4 L204.2,880.2 L204.4,879.1 L204.6,878.0 L204.8,876.9 L205.0,875.7 L205.2,874.6 L205.3,873.5 L205.5,872.4 L205.7,871.3 L205.9,870.1 L206.1,869.0 L206.3,867.9 L206.5,866.8 L206.7,865.7 L206.9,864.5 L207.2,863.4 L207.4,862.3 L207.6,861.2 L207.8,860.1 L208.0,859.0 L208.2,857.8 L208.4,856.7 L208.7,855.6 L208.9,854.5 L209.1,853.4 L209.3,852.3 L209.6,851.2 L209.8,850.0 L210.0,848.9 L210.3,847.8 L210.5,846.7 L210.7,845.6 L211.0,844.5 L211.2,843.4 L211.5,842.3 L211.7,841.2 L211.9,840.1 L212.2,839.0 L212.5,837.9 L212.7,836.7 L213.0,835.6 L213.2,834.5 L213.5,833.4 L213.7,832.3 L214.0,831.2 L214.3,830.1 L214.5,829.0 L214.8,827.9 L215.1,826.8 L215.4,825.7 L215.6,824.6 L215.9,823.5 L216.2,822.4 L216.5,821.4 L216.8,820.3 L217.1,819.2 L217.4,818.1 L217.7,817.0 L218.0,815.9 L218.3,814.8 L218.6,813.7 L218.9,812.6 L219.2,811.5 L219.5,810.4 L219.8,809.4 L220.1,808.3 L220.4,807.2 L220.8,806.1 L221.1,805.0 L221.4,803.9 L221.7,802.8 L222.1,801.8 L222.4,800.7 L222.7,799.6 L223.1,798.5 L223.4,797.4 L223.7,796.4 L224.1,795.3 L224.4,794.2 L224.8,793.1 L225.1,792.1 L225.5,791.0 L225.9,789.9 L226.2,788.9 L226.6,787.8 L227.0,786.7 L227.3,785.6 L227.7,784.6 L228.1,783.5 L228.5,782.5 L228.8,781.4 L229.2,780.3 L229.6,779.3 L230.0,778.2 L230.4,777.1 L230.8,776.1 L231.2,775.0 L231.6,774.0 L232.0,772.9 L232.4,771.9 L232.8,770.8 L233.2,769.7 L233.6,768.7 L234.1,767.6 L234.5,766.6 L234.9,765.5 L235.3,764.5 L235.8,763.5 L236.2,762.4 L236.6,761.4 L237.1,760.3 L237.5,759.3 L238.0,758.2 L238.4,757.2 L238.9,756.2 L239.3,755.1 L239.8,754.1 L240.3,753.1 L240.7,752.0 L241.2,751.0 L241.7,750.0 L242.1,748.9 L242.6,747.9 L243.1,746.9 L243.6,745.9 L244.1,744.9 L244.6,743.8 L245.1,742.8 L245.5,741.8 L246.0,740.8 L246.6,739.8 L247.1,738.8 L247.6,737.8 L248.1,736.7 L248.6,735.7 L249.1,734.7 L249.6,733.7 L250.2,732.7 L250.7,731.7 L251.2,730.7 L251.8,729.7 L252.3,728.7 L252.8,727.8 L253.4,726.8 L253.9,725.8 L254.5,724.8 L255.1,723.8 L255.6,722.8 L256.2,721.8 L256.7,720.9 L257.3,719.9 L257.9,718.9 L258.5,717.9 L259.0,717.0 L259.6,716.0 L260.2,715.0 L260.8,714.1 L261.4,713.1 L262.0,712.2 L262.6,711.2 L263.2,710.3 L263.8,709.3 L264.4,708.4 L265.0,707.4 L265.6,706.5 L266.3,705.5 L266.9,704.6 L267.5,703.6 L268.1,702.7 L268.8,701.8 L269.4,700.8 L270.1,699.9 L270.7,699.0 L271.3,698.1 L272.0,697.1 L272.7,696.2 L273.3,695.3 L274.0,694.4 L274.6,693.5 L275.3,692.6 L276.0,691.7 L276.7,690.8 L277.3,689.9 L278.0,689.0 L278.7,688.1 L279.4,687.2 L280.1,686.3 L280.8,685.4 L281.5,684.5 L282.2,683.6 L282.9,682.8 L283.6,681.9 L284.4,681.0 L285.1,680.1 L285.8,679.3 L286.5,678.4 L287.3,677.6 L288.0,676.7 L288.7,675.8 L289.5,675.0 L290.2,674.1 L291.0,673.3 L291.7,672.5 L292.5,671.6 L293.3,670.8 L294.0,669.9 L294.8,669.1 L295.6,668.3 L296.3,667.5 L297.1,666.6 L297.9,665.8 L298.7,665.0 L299.5,664.2 L300.3,663.4 L301.1,662.6 L301.9,661.8 L302.7,661.0 L303.5,660.2 L304.3,659.4 L305.1,658.6 L305.9,657.8 L306.7,657.0 L307.6,656.2 L308.4,655.4 L309.2,654.7 L310.1,653.9 L310.9,653.1 L311.7,652.3 L312.6,651.6 L313.4,650.8 L314.3,650.1 L315.1,649.3 L316.0,648.5 L316.8,647.8 L317.7,647.0 L318.5,646.3 L319.4,645.6 L320.3,644.8 L321.1,644.1 L322.0,643.3 L322.9,642.6 L323.8,641.9 L324.6,641.2 L325.5,640.4 L326.4,639.7 L327.3,639.0 L328.2,638.3 L329.1,637.6 L330.0,636.9 L330.9,636.2 L331.8,635.5 L332.7,634.8 L333.6,634.1 L334.5,633.4 L335.4,632.7 L336.3,632.0 L337.2,631.3 L338.1,630.6 L339.0,629.9 L340.0,629.3 L340.9,628.6 L341.8,627.9 L342.7,627.2 L343.7,626.6 L344.6,625.9 L345.5,625.3 L346.4,624.6 L347.4,623.9 L348.3,623.3 L349.2,622.2 L350.1,621.2 L351.1,620.1 L352.0,619.0 L352.9,618.0 L353.9,617.0 L354.8,615.9 L355.8,614.9 L356.7,613.8 L357.7,612.8 L358.6,611.8 L359.6,610.8 L360.6,609.8 L361.5,608.8 L362.5,607.8 L363.5,606.8 L364.5,605.8 L365.5,604.8 L366.5,603.8 L367.5,602.8 L368.5,601.8 L369.5,600.9 L370.5,599.9 L371.5,598.9 L372.5,598.0 L373.5,597.0 L374.6,596.1 L375.6,595.2 L376.6,594.2 L377.7,593.3 L378.7,592.4 L379.8,591.5 L380.8,590.5 L381.9,589.6 L382.9,588.7 L384.0,587.8 L385.1,586.9 L386.1,586.0 L387.2,585.2 L388.3,584.3 L389.4,583.4 L390.5,582.5 L391.6,581.7 L392.7,580.8 L393.8,580.0 L394.9,579.1 L396.0,578.3 L397.1,577.4 L398.2,576.6 L399.3,575.8 L400.4,574.9 L401.6,574.1 L402.7,573.3 L403.8,572.5 L405.0,571.7 L406.1,570.9 L407.2,570.1 L408.4,569.3 L409.5,568.5 L410.7,567.7 L411.9,567.0 L413.0,566.2 L414.2,565.4 L415.3,564.7 L416.5,563.9 L417.7,563.1 L418.9,562.4 L420.0,561.6 L421.2,560.9 L422.4,560.2 L423.6,559.4 L424.8,558.7 L426.0,558.0 L427.2,557.3 L428.4,556.6 L429.6,555.8 L430.8,555.1 L432.0,554.4 L433.2,553.7 L434.4,553.0 L435.6,552.3 L436.8,551.7 L438.1,551.0 L439.3,550.3 L440.5,549.6 L441.7,548.9 L442.9,548.3 L444.2,547.6 L445.4,546.9 L446.6,546.3 L447.9,545.6 L449.1,545.0 L450.3,544.3 L451.6,543.7 L452.8,543.0 L454.1,542.4 L455.3,541.8 L456.5,541.1 L457.8,540.5 L459.0,539.9 L460.3,539.2 L461.5,538.6 L462.8,538.0 L464.1,537.4 L465.3,536.8 L466.6,536.2 L467.8,535.6 L469.1,535.0 L470.4,534.4 L471.6,533.8 L472.9,533.2 L474.1,532.6 L475.4,532.0 L476.7,531.4 L478.0,530.8 L479.2,530.3 L480.5,529.7 L481.8,529.1 L483.1,528.5 L484.3,528.0 L485.6,527.4 L486.9,526.9 L488.2,526.3 L489.5,525.7 L490.7,525.2 L492.0,524.6 L493.3,524.1 L494.6,523.5 L495.9,523.0 L497.2,522.5 L498.5,521.9 L499.8,521.4 L501.1,520.9 L502.4,520.3 L503.7,519.8 L505.0,519.3 L506.3,518.8 L507.6,518.2 L508.9,517.7 L510.2,517.2 L511.5,516.7 L512.8,516.2 L514.1,515.7 L515.4,515.2 L516.7,514.7 L518.0,514.2 L519.3,513.7 L520.6,513.2 L521.9,512.7 L523.2,512.2 L524.5,511.7 L525.9,511.2 L527.2,510.7 L528.5,510.2 L529.8,509.8 L531.1,509.3 L532.4,508.8 L533.8,508.3 L535.1,507.9 L536.4,507.4 L537.7,506.9 L539.0,506.5 L540.4,506.0 L541.7,505.5 L543.0,505.1 L544.3,504.6 L545.7,504.2 L547.0,503.7 L548.3,503.3 L549.6,502.8 L551.0,502.4 L552.3,501.9 L553.6,501.5 L554.9,501.0 L556.3,500.6 L557.6,500.1 L558.9,499.7 L560.3,499.3 L561.6,498.8 L562.9,498.4 L564.3,498.0 L565.6,497.5 L566.9,497.1 L568.3,496.7 L569.6,496.3 L570.9,495.8 L572.3,495.4 L573.6,495.0 L574.9,494.6 L576.3,494.2 L577.6,493.7 L579.0,493.3 L580.3,492.9 L581.6,492.5 L583.0,492.1 L584.3,491.7 L585.6,491.3 L587.0,490.9 L588.3,490.5 L589.7,490.1 L591.0,489.7 L592.3,489.3 L593.7,488.9 L595.0,488.5 L596.4,488.1 L597.7,487.7 L599.1,487.3 L600.4,486.9 L601.7,486.5 L603.1,486.1 L604.4,485.7 L605.8,485.3 L607.1,484.9 L608.5,484.5 L609.8,484.1 L611.1,483.8 L612.5,483.4 L613.8,483.0 L615.2,482.6 L616.5,482.2 L617.9,481.8 L619.2,481.5 L620.6,481.1 L621.9,480.7 L623.3,480.3 L624.6,479.9 L625.9,479.6 L627.3,479.2 L628.6,478.8 L630.0,478.4 L631.3,478.1 L632.7,477.7 L634.0,477.3 L635.4,476.9 L636.7,476.6 L638.1,476.2 L639.4,475.8 L640.8,475.4 L642.1,475.1 L643.5,474.7 L644.8,474.3 L646.2,474.0 L647.5,473.6 L648.9,473.2 L650.2,472.8 L651.6,472.5 L652.9,472.1 L654.3,471.7 L655.6,471.4 L657.0,471.0 L658.3,470.6 L659.6,470.3 L661.0,469.9 L662.3,469.5 L663.7,469.2 L665.0,468.8 L666.4,468.4 L667.7,468.1 L669.1,467.7 L670.4,467.3 L671.8,466.9 L673.1,466.6 L674.5,466.2 L675.8,465.8 L677.2,465.5 L678.5,465.1 L679.9,464.7 L681.2,464.4 L682.6,464.0 L683.9,463.6 L685.3,463.2 L686.6,462.9 L688.0,462.5 L689.3,462.1 L690.7,461.8 L692.0,461.4 L693.4,461.0 L694.7,460.6 L696.1,460.3 L697.4,459.9 L698.8,459.5 L700.1,459.1 L701.4,458.8 L702.8,458.4 L704.1,458.0 L705.5,457.6 L706.8,457.2 L708.2,456.9 L709.5,456.5 L710.9,456.1 L712.2,455.7 L713.6,455.3 L714.9,455.0 L716.2,454.6 L717.6,454.2 L718.9,453.8 L720.3,453.4 L721.6,453.0 L723.0,452.6 L724.3,452.2 L725.7,451.8 L727.0,451.5 L728.3,451.1 L729.7,450.7 L731.0,450.3 L732.4,449.9 L733.7,449.5 L735.0,449.1 L736.4,448.7 L737.7,448.3 L739.1,447.9 L740.4,447.5 L741.7,447.1 L743.1,446.7 L744.4,446.3 L745.8,445.8 L747.1,445.4 L748.4,445.0 L749.8,444.6 L751.1,444.2 L752.5,443.8 L753.8,443.4 L755.1,442.9 L756.5,442.5 L757.8,442.1 L759.1,441.7 L760.5,441.3 L761.8,440.8 L763.1,440.4 L764.5,440.0 L765.8,439.5 L767.1,439.1 L768.5,438.7 L769.8,438.2 L771.1,437.8 L772.5,437.4 L773.8,436.9 L775.1,436.5 L776.4,436.0 L777.8,435.6 L779.1,435.2 L780.4,434.7 L781.8,434.3 L783.1,433.8 L784.4,433.4 L785.8,432.9 L787.1,432.5 L788.4,432.1 L789.7,431.6 L791.1,431.2 L792.4,430.7 L793.7,430.3 L795.1,429.8 L796.4,429.4 L797.7,429.0 L799.1,428.5 L800.4,428.1 L801.7,427.7 L803.0,427.2 L804.4,426.8 L805.7,426.4 L807.0,426.0 L808.4,425.5 L809.7,425.1 L811.0,424.7 L812.4,424.3 L813.7,423.9 L815.1,423.4 L816.4,423.0 L817.7,422.6 L819.1,422.2 L820.4,421.8 L821.7,421.4 L823.1,421.0 L824.4,420.7 L825.8,420.3 L827.1,419.9 L828.5,419.5 L829.8,419.1 L831.2,418.8 L832.5,418.4 L833.9,418.0 L835.2,417.7 L836.6,417.3 L837.9,417.0 L839.3,416.6 L840.6,416.3 L842.0,416.0 L843.3,415.7 L844.7,415.3 L846.0,415.0 L847.4,414.7 L848.8,414.4 L850.1,414.1 L851.5,413.8 L852.9,413.5 L854.2,413.3 L855.6,413.0 L857.0,412.7" stroke="#dc9600"/>
</g>
<g>
<text transform="translate(183.7,1096.8) scale(0.97,1.02)" text-anchor="middle" class="tk">0</text>
<text transform="translate(376.0,1096.8) scale(0.97,1.02)" text-anchor="middle" class="tk">20</text>
<text transform="translate(568.3,1096.8) scale(0.97,1.02)" text-anchor="middle" class="tk">40</text>
<text transform="translate(760.7,1096.8) scale(0.97,1.02)" text-anchor="middle" class="tk">60</text>
<text transform="translate(953.0,1096.8) scale(0.97,1.02)" text-anchor="middle" class="tk">80</text>
<text transform="translate(1145.3,1096.8) scale(0.97,1.02)" text-anchor="middle" class="tk">100</text>
<text transform="translate(1337.6,1096.8) scale(0.97,1.02)" text-anchor="middle" class="tk">120</text>
<text transform="translate(149.3,1043.9) scale(0.95,1.02)" text-anchor="end" class="tk">0</text>
<text transform="translate(149.3,900.9) scale(0.95,1.02)" text-anchor="end" class="tk">5</text>
<text transform="translate(149.3,757.9) scale(0.95,1.02)" text-anchor="end" class="tk">10</text>
<text transform="translate(149.3,614.9) scale(0.95,1.02)" text-anchor="end" class="tk">15</text>
<text transform="translate(149.3,472.0) scale(0.95,1.02)" text-anchor="end" class="tk">20</text>
<text transform="translate(149.3,329.0) scale(0.95,1.02)" text-anchor="end" class="tk">25</text>
<text transform="translate(149.3,186.0) scale(0.95,1.02)" text-anchor="end" class="tk">30</text>
<text transform="translate(149.3,43.0) scale(0.95,1.02)" text-anchor="end" class="tk">35</text>
</g>
<text transform="translate(809,1167.5) scale(1.015,1)" text-anchor="middle" class="ti">Strain (%)</text>
<text transform="translate(49.3,499.5) rotate(-90)" text-anchor="middle" class="ti">Stress (MPa)</text>
<g>
<rect x="866.5" y="456" width="512.5" height="392" fill="#fff" stroke="none"/>
<path d="M866.5,455 V849.7 M865,848.2 H1380.2" stroke="#000" stroke-width="3" fill="none"/>
<path d="M865,456 H1380.2 M1379.2,455 V849.7" stroke="#000" stroke-width="2.2" fill="none"/>
<line x1="874.3" y1="492.5" x2="990.8" y2="492.5" stroke="#767676" stroke-width="8.7" stroke-linecap="round"/>
<text transform="translate(1003.6,509.5) scale(1.067,1)" class="lg">n-LTPI-0</text>
<line x1="874.3" y1="556.5" x2="990.8" y2="556.5" stroke="#fc3c3c" stroke-width="8.7" stroke-linecap="round"/>
<text transform="translate(1003.6,573.5) scale(1.067,1)" class="lg">n-LTPI-DMP-2.0</text>
<line x1="874.3" y1="620.5" x2="990.8" y2="620.5" stroke="#006ae0" stroke-width="8.7" stroke-linecap="round"/>
<text transform="translate(1003.6,637.5) scale(1.067,1)" class="lg">n-LTPI-QL-2.0</text>
<line x1="874.3" y1="684.5" x2="990.8" y2="684.5" stroke="#00ab64" stroke-width="8.7" stroke-linecap="round"/>
<text transform="translate(1003.6,701.5) scale(1.067,1)" class="lg">n-LTPI-IQL-2.0</text>
<line x1="874.3" y1="748.5" x2="990.8" y2="748.5" stroke="#c074e4" stroke-width="8.7" stroke-linecap="round"/>
<text transform="translate(1003.6,765.5) scale(1.067,1)" class="lg">n-LTPI-IMZ-2.0</text>
<line x1="874.3" y1="812.5" x2="990.8" y2="812.5" stroke="#dc9600" stroke-width="8.7" stroke-linecap="round"/>
<text transform="translate(1003.6,829.5) scale(1.067,1)" class="lg">n-LTPI-BZI-2.0</text>
</g>
</svg>
</body></html>
